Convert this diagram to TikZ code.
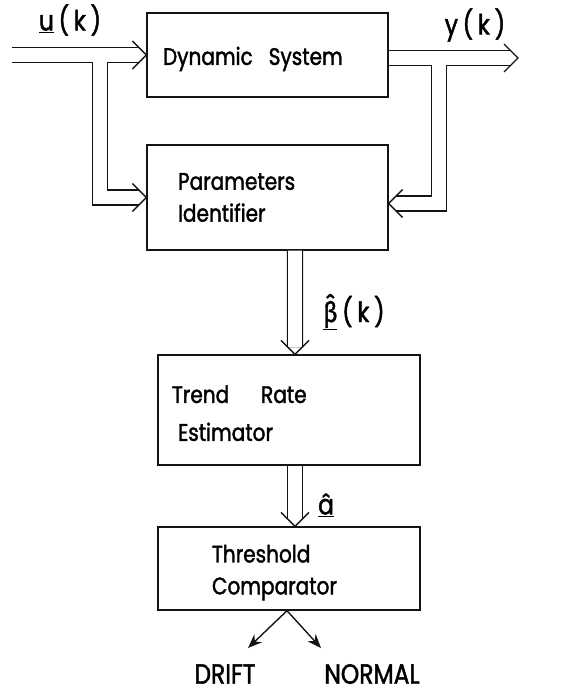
\documentclass[tikz,border=0pt]{standalone}
\usepackage{fontspec}
\setmainfont{Poppins}[FakeStretch=0.84, FakeBold=1.6]
\newfontfamily\grkfont{Fira Sans}[FakeStretch=0.84, FakeBold=1.6]
\usetikzlibrary{arrows.meta,positioning,calc}
\definecolor{inkBlack}{RGB}{20, 20, 20}

\tikzset{
  blk/.style={draw=inkBlack, line width=1.4bp, inner sep=4bp, align=left,
    font=\fontsize{24}{32}\selectfont},
  dbl/.style={draw=inkBlack, double=white, double distance=13.6bp, line width=1.4bp},
  tip/.style={draw=inkBlack, line width=1.4bp},
  sig/.style={inner sep=0pt, font=\fontsize{28}{30}\selectfont},
  outarr/.style={draw=inkBlack, line width=1.4bp, -{Stealth[length=14bp,width=11bp]}}
}

\begin{document}
\begin{tikzpicture}[x=1bp, y=-1bp]
  \useasboundingbox (0,0) rectangle (572,694);

  % blocks
  \node[blk, minimum width=241bp, minimum height=84bp, text width=209bp] (dyn) at (267.5,55) {\rule{0pt}{26bp}Dynamic\ \ System};
  \node[blk, minimum width=241bp, minimum height=105bp, text width=179bp] (pid) at (267.5,197.5) {Parameters\\Identifier};
  \node[blk, minimum width=262bp, minimum height=110bp, text width=234bp] (tre) at (289,410) {\rule{0pt}{24bp}Trend\quad\ Rate\\[6bp]\hspace{6bp}Estimator};
  \node[blk, minimum width=262bp, minimum height=83bp, text width=154bp] (thr) at (289,568.5) {\rule{0pt}{26bp}Threshold\\Comparator};

  % free ends and branch points
  \coordinate (uin) at (12,55);
  \coordinate (yout) at (518,58);
  \coordinate (ubr) at (100,61.8);
  \coordinate (ybr) at (439,64.8);
  \coordinate (drift) at (248,648);
  \coordinate (normal) at (321,648);

  % input u(k)
  \draw[dbl] (uin) -- ($(dyn.west)+(-7,0)$);
  \draw[dbl] (ubr) |- ($(pid.west)+(-7,0)$);
  \draw[tip] ($(dyn.west)+(-14,-14)$) -- (dyn.west) -- ++(-14,14);
  \draw[tip] ($(pid.west)+(-14,-14)$) -- (pid.west) -- ++(-14,14);

  % output y(k)
  \draw[dbl] ($(dyn.east)+(0,3)$) -- ($(yout)+(-7,0)$);
  \draw[dbl] (ybr) |- ($(pid.east)+(7,6)$);
  \draw[tip] ($(yout)+(-14,-14)$) -- (yout) -- ++(-14,14);
  \draw[tip] ($(pid.east)+(14,-8)$) -- ($(pid.east)+(0,6)$) -- ++(14,14);

  % parameter estimate
  \draw[dbl] ($(pid.south)+(27.5,0)$) -- ($(tre.north)+(6,-7)$);
  \draw[tip] ($(tre.north)+(-8,-14)$) -- ($(tre.north)+(6,0)$) -- ++(14,-14);

  % trend rate
  \draw[dbl] ($(tre.south)+(6,0)$) -- ($(thr.north)+(6,-7)$);
  \draw[tip] ($(thr.north)+(-8,-14)$) -- ($(thr.north)+(6,0)$) -- ++(14,-14);

  % decisions
  \draw[outarr] ($(thr.south)+(-2,0)$) -- (drift);
  \draw[outarr] ($(thr.south)+(-2,0)$) -- (normal);

  % labels
  \node[sig] (ulab) at (70,20) {\underline{u}\,(\,k\,)};
  \node[sig] (ylab) at (475,25) {y\,(\,k\,)};
  \node[sig] (blab) at (354,312) {\underline{\grkfont β̂}\,(\,k\,)};
  \node[sig] (alab) at (326,505) {\underline{â}};
  \node[sig] (dlab) at (225,674) {DRIFT};
  \node[sig] (nlab) at (372,674) {NORMAL};
\end{tikzpicture}
\end{document}
